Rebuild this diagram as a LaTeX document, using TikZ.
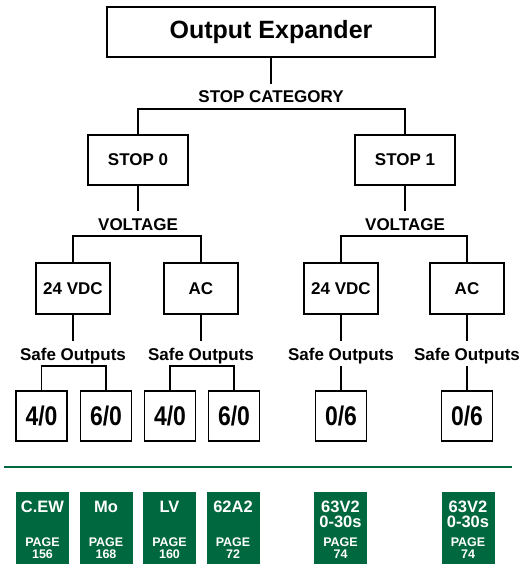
\documentclass[tikz,border=0pt]{standalone}
\usepackage{fontspec}
\setmainfont{Liberation Sans}
\newfontfamily\digitfont{Liberation Sans}[FakeStretch=0.85]
\definecolor{pagegreen}{RGB}{0,104,62}

\begin{document}
\begin{tikzpicture}[x=1pt, y=-1pt,
    box/.style={draw, line width=1.8pt, inner sep=0pt, font=\bfseries\fontsize{17}{20}\selectfont},
    lbl/.style={inner xsep=2pt, inner ysep=6pt, text height=12.5pt, text depth=0pt,
        font=\bfseries\fontsize{17}{20}\selectfont},
    wire/.style={line width=1.8pt},
    pagebox/.style={fill=pagegreen, minimum width=53pt, minimum height=72pt, inner sep=0pt}]

    \useasboundingbox (0,0) rectangle (527,565);

    % 1. Top of the tree
    \node[box, minimum width=328pt, minimum height=50pt, font=\bfseries\fontsize{25}{30}\selectfont]
        (expander) at (271,32) {Output Expander};
    \node[lbl] (stopcat) at (271,96.5) {STOP CATEGORY};

    % 2. Stop categories and their voltage labels
    \foreach \x/\n in {138/0, 405/1} {
        \node[box, minimum width=100pt, minimum height=50pt] (stop\n) at (\x,160) {STOP \n};
        \node[lbl] (volt\n) at (\x,223.75) {VOLTAGE};
    }

    % 3. Voltage boxes with their safe output labels
    \foreach \name/\x/\txt in {dc0/73/24 VDC, ac0/201/AC, dc1/341/24 VDC, ac1/467/AC} {
        \node[box, minimum width=74pt, minimum height=51pt] (\name) at (\x,288.5) {\txt};
        \node[lbl] (safe\name) at (\x,353.75) {Safe Outputs};
    }

    % 4. Safe output counts
    \foreach \name/\x/\a/\b in {oa/41.5/4/0, ob/106/6/0, oc/170/4/0, od/234/6/0, oe/341/0/6, of/467/0/6} {
        \node[box, minimum width=51pt, minimum height=50pt, font=\digitfont\bfseries\fontsize{27}{30}\selectfont]
            (\name) at (\x,416) {\a/\b};
    }

    % 5. Connectors
    \draw[wire] (expander) -- (stopcat);
    \draw[wire] (stop0.north) |- (stopcat.south) -| (stop1.north);
    \draw[wire] (stop0) -- (volt0);
    \draw[wire] (stop1) -- (volt1);
    \draw[wire] (dc0.north) |- (volt0.south) -| (ac0.north);
    \draw[wire] (dc1.north) |- (volt1.south) -| (ac1.north);
    \foreach \name in {dc0, ac0, dc1, ac1} {
        \draw[wire] (\name) -- (safe\name);
    }
    \draw[wire] (oa.north) |- (safedc0.south) -| (ob.north);
    \draw[wire] (oc.north) |- (safeac0.south) -| (od.north);
    \draw[wire] (safedc1) -- (oe);
    \draw[wire] (safeac1) -- (of);

    % 6. Green rule and page references
    \draw[pagegreen, line width=2pt] (4,467) -- (512,467);
    \foreach \name/\x/\title/\pg in {cew/42.5/C.EW/156, mo/106/Mo/168, lv/169.5/LV/160,
        sa/233/62A2/72, va/340.5/63V2\\0-30s/74, vb/468/63V2\\0-30s/74} {
        \node[pagebox] (\name) at (\x,528) {};
        \node[anchor=north, align=center, text=white, inner sep=0pt,
            font=\bfseries\fontsize{16.5}{15.5}\selectfont] (t\name) at (\x,500.5) {\title};
        \node[anchor=south, align=center, text=white, inner sep=0pt,
            font=\bfseries\fontsize{12.5}{12}\selectfont] (p\name) at (\x,559) {PAGE\\\pg};
    }

\end{tikzpicture}
\end{document}
